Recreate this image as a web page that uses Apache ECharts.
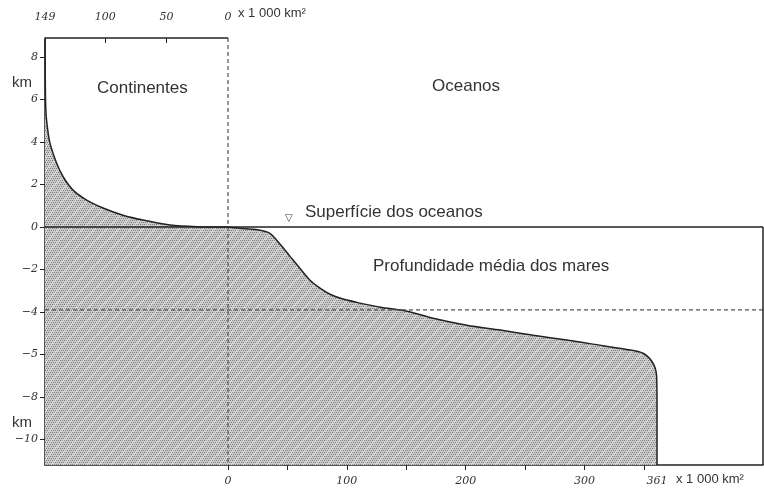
<!DOCTYPE html>
<html>
<head>
<meta charset="utf-8">
<script src="https://cdn.jsdelivr.net/npm/echarts@6/dist/echarts.min.js"></script>
<style>html,body{margin:0;padding:0;background:#fff}#c{width:764px;height:492px}</style>
</head>
<body>
<div id="c"></div>
<script>
// ---- data ----
const continentArea = [-149, -148.7, -148.3, -147.5, -145, -139.5, -134.4, -126.2, -115.1, -101.8, -85.5, -69.2, -47.2, -25.2, 0];
const continentHeight = [8.85, 6.5, 5.5, 4.9, 3.96, 3.0, 2.38, 1.74, 1.27, 0.9, 0.56, 0.33, 0.1, 0.02, 0];
const oceanArea = [0, 10, 20, 27, 35.3, 43.7, 52.2, 60.6, 69, 77.4, 85.8, 96.8, 111, 128, 150.8, 172.5, 201, 229, 257, 285, 307, 335.5, 349.2, 357.6, 360.7, 361, 361];
const oceanDepth = [0, -0.05, -0.1, -0.15, -0.3, -0.8, -1.38, -1.95, -2.5, -2.87, -3.16, -3.39, -3.58, -3.77, -3.96, -4.29, -4.62, -4.85, -5.09, -5.32, -5.51, -5.76, -5.94, -6.41, -7.05, -8.3, -11.2];
const seaLevel = 0;
const meanDepth = -3.9;
const yTickValues = [8, 6, 4, 2, 0, -2, -4, -6, -8, -10];
const yTickLabels = ['8', '6', '4', '2', '0', '\u22122', '\u22124', '\u22125', '\u22128', '\u221210'];
const topTickValues = [-149, -100, -50, 0];
const topTickLabels = ['149', '100', '50', '0'];
const bottomTickValues = [0, 100, 200, 300, 361];
const bottomTickLabels = ['0', '100', '200', '300', '361'];
const bottomMinorTicks = [0, 50, 100, 150, 200, 250, 300, 350];

const yMin = -11.2, yMax = 8.9;
const botMin = -154, botMax = 450.2;
const topMin = -149, topMax = 435.6;

function makePattern() {
  const c = document.createElement('canvas');
  c.width = 12; c.height = 12;
  const g = c.getContext('2d');
  g.fillStyle = '#cbcbcb';
  g.fillRect(0, 0, 12, 12);
  g.fillStyle = '#7e7e7e';
  for (let y = 0; y < 12; y += 2) {
    for (let x = (y / 2) % 2; x < 12; x += 2) g.fillRect(x, y, 1, 1);
  }
  g.strokeStyle = 'rgba(255,255,255,0.35)';
  g.lineWidth = 1.5;
  g.beginPath(); g.moveTo(0, 12); g.lineTo(12, 0); g.stroke();
  return c;
}
const pattern = { image: makePattern(), repeat: 'repeat' };

const zip = (a, b) => a.map((v, i) => [v, b[i]]);
const labelFont = { fontFamily: 'DejaVu Serif', fontStyle: 'italic', fontSize: 11, color: '#333' };
const textFont = 'Liberation Sans';

const chart = echarts.init(document.getElementById('c'), null, { renderer: 'canvas' });
chart.setOption({
  animation: false,
  backgroundColor: '#fff',
  grid: { left: 45, right: 1, top: 38, bottom: 27 },
  xAxis: [
    {
      type: 'value', position: 'bottom', min: botMin, max: botMax,
      splitLine: { show: false },
      axisLine: { show: true, onZero: false, lineStyle: { color: '#222', width: 1.5 } },
      axisTick: { show: true, customValues: bottomMinorTicks, length: 5, lineStyle: { color: '#222' } },
      axisLabel: Object.assign({ customValues: bottomTickValues, margin: 11,
        formatter: v => bottomTickLabels[bottomTickValues.indexOf(v)] }, labelFont)
    },
    {
      type: 'value', position: 'top', min: topMin, max: topMax,
      splitLine: { show: false },
      axisLine: { show: false, onZero: false },
      axisTick: { show: true, inside: true, customValues: [-100, -50], length: 5, lineStyle: { color: '#222' } },
      axisLabel: Object.assign({ customValues: topTickValues, margin: 15,
        formatter: v => topTickLabels[topTickValues.indexOf(v)] }, labelFont)
    }
  ],
  yAxis: {
    type: 'value', min: yMin, max: yMax,
    splitLine: { show: false },
    axisLine: { show: true, onZero: false, lineStyle: { color: '#222', width: 1.5 } },
    axisTick: { show: true, customValues: yTickValues, length: 5, lineStyle: { color: '#222' } },
    axisLabel: Object.assign({ customValues: yTickValues, margin: 7,
      formatter: v => yTickLabels[yTickValues.indexOf(v)] }, labelFont)
  },
  series: [
    {
      name: 'Continentes', type: 'line', xAxisIndex: 1, data: zip(continentArea, continentHeight),
      smooth: 0.3, showSymbol: false, clip: false,
      lineStyle: { color: '#222', width: 1.5 },
      areaStyle: { color: pattern, origin: 'start', opacity: 1 }, z: 2
    },
    {
      name: 'Oceanos', type: 'line', xAxisIndex: 0, data: zip(oceanArea, oceanDepth),
      smooth: 0.3, showSymbol: false, clip: false,
      lineStyle: { color: '#222', width: 1.5 },
      areaStyle: { color: pattern, origin: 'start', opacity: 1 }, z: 2
    },
    { type: 'line', xAxisIndex: 1, data: [[topMin, yMax], [0, yMax]], showSymbol: false, clip: false,
      lineStyle: { color: '#222', width: 1.5 }, z: 5, silent: true },
    { type: 'line', xAxisIndex: 0, data: [[botMin, seaLevel], [botMax, seaLevel]], showSymbol: false, clip: false,
      lineStyle: { color: '#222', width: 1.5 }, z: 5, silent: true },
    { type: 'line', xAxisIndex: 0, data: [[botMax, seaLevel], [botMax, yMin]], showSymbol: false, clip: false,
      lineStyle: { color: '#222', width: 1.5 }, z: 5, silent: true },
    { type: 'line', xAxisIndex: 0, data: [[botMin, meanDepth], [botMax, meanDepth]], showSymbol: false, clip: false,
      lineStyle: { color: '#555', width: 1.2, type: [4, 3] }, z: 4, silent: true },
    { type: 'line', xAxisIndex: 0, data: [[0, yMax], [0, yMin]], showSymbol: false, clip: false,
      lineStyle: { color: '#555', width: 1.2, type: [4, 3] }, z: 4, silent: true }
  ],
  graphic: [
    { type: 'text', left: 238, top: 7, style: { text: 'x 1 000 km\u00b2', font: '13px ' + textFont, fill: '#333' } },
    { type: 'text', left: 676, top: 473, style: { text: 'x 1 000 km\u00b2', font: '13px ' + textFont, fill: '#333' } },
    { type: 'text', left: 12, top: 75, style: { text: 'km', font: '15px ' + textFont, fill: '#333' } },
    { type: 'text', left: 12, top: 415, style: { text: 'km', font: '15px ' + textFont, fill: '#333' } },
    { type: 'text', left: 97, top: 80, style: { text: 'Continentes', font: '17px ' + textFont, fill: '#333' } },
    { type: 'text', left: 432, top: 78, style: { text: 'Oceanos', font: '17px ' + textFont, fill: '#333' } },
    { type: 'text', left: 285, top: 213, style: { text: '\u25bd', font: '10px DejaVu Sans', fill: '#333' } },
    { type: 'text', left: 305, top: 204, style: { text: 'Superfície dos oceanos', font: '17px ' + textFont, fill: '#333' } },
    { type: 'text', left: 373, top: 258, style: { text: 'Profundidade média dos mares', font: '17px ' + textFont, fill: '#333' } }
  ]
});
</script>
</body>
</html>
